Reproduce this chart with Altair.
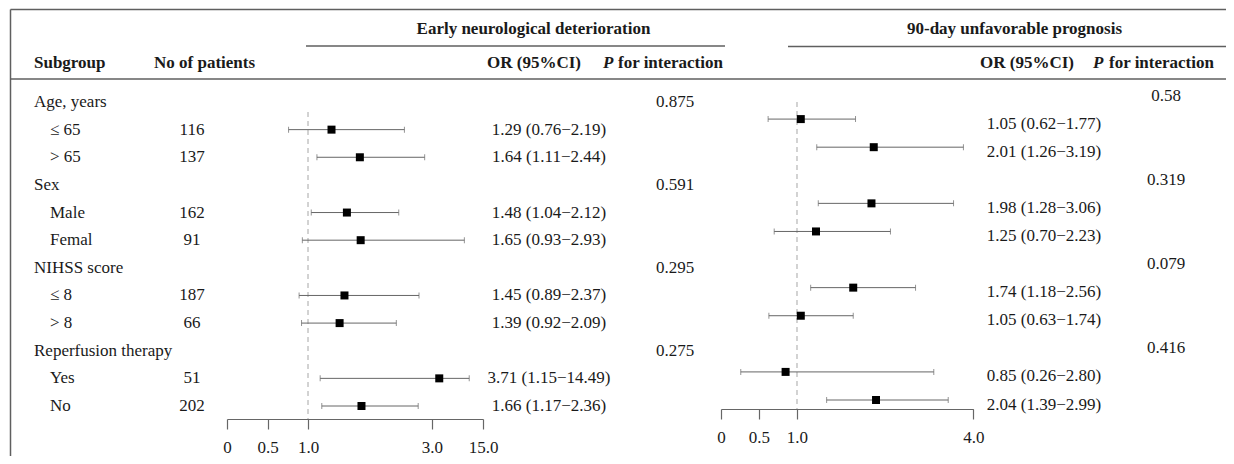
import altair as alt
import pandas as pd

# ---------------- data ----------------
groups = ["Age, years", "Sex", "NIHSS score", "Reperfusion therapy"]
subgroups = ["≤ 65", "> 65", "Male", "Femal", "≤ 8", "> 8", "Yes", "No"]
n_patients = ["116", "137", "162", "91", "187", "66", "51", "202"]

# Early neurological deterioration (positions as drawn in the reference)
ed_or = [1.29, 1.64, 1.48, 1.65, 1.45, 1.39, 2.62, 1.66]
ed_lo = [0.76, 1.11, 1.04, 0.93, 0.89, 0.92, 1.15, 1.17]
ed_hi = [2.19, 2.44, 2.12, 2.93, 2.37, 2.09, 2.99, 2.36]
ed_text = ["1.29 (0.76\u22122.19)", "1.64 (1.11\u22122.44)", "1.48 (1.04\u22122.12)",
           "1.65 (0.93\u22122.93)", "1.45 (0.89\u22122.37)", "1.39 (0.92\u22122.09)",
           "3.71 (1.15\u221214.49)", "1.66 (1.17\u22122.36)"]
ed_p = ["0.875", "0.591", "0.295", "0.275"]

# 90-day unfavorable prognosis
up_or = [1.05, 2.01, 1.98, 1.25, 1.74, 1.05, 0.85, 2.04]
up_lo = [0.62, 1.26, 1.28, 0.70, 1.18, 0.63, 0.26, 1.39]
up_hi = [1.77, 3.19, 3.06, 2.23, 2.56, 1.74, 2.80, 2.99]
up_text = ["1.05 (0.62\u22121.77)", "2.01 (1.26\u22123.19)", "1.98 (1.28\u22123.06)",
           "1.25 (0.70\u22122.23)", "1.74 (1.18\u22122.56)", "1.05 (0.63\u22121.74)",
           "0.85 (0.26\u22122.80)", "2.04 (1.39\u22122.99)"]
up_p = ["0.58", "0.319", "0.079", "0.416"]

# axis ticks (positions where the labels sit on the drawn scale) and labels
ed_ticks = [0, 0.5, 1.0, 2.53, 3.16]
ed_tick_labels = ["0", "0.5", "1.0", "3.0", "15.0"]
up_ticks = [0, 0.5, 1.0, 3.32]
up_tick_labels = ["0", "0.5", "1.0", "4.0"]

# ---------------- tables ----------------
group_rows = [0, 3, 6, 9]
item_rows = [1, 2, 4, 5, 7, 8, 10, 11]

grp_df = pd.DataFrame({"row": group_rows, "label": groups, "ed_p": ed_p, "up_p": up_p})
item_df = pd.DataFrame({"row": item_rows, "label": subgroups, "n": n_patients,
                        "ed_or": ed_or, "ed_lo": ed_lo, "ed_hi": ed_hi, "ed_text": ed_text,
                        "up_or": up_or, "up_lo": up_lo, "up_hi": up_hi, "up_text": up_text})

FONT = "Liberation Serif"
TXT = "#1a1a1a"
LINE = "#5f5f5f"
W, H = 1218, 411

LEFT_Y = alt.Scale(domain=[0, 11], range=[94, 398], nice=False, zero=False)
RIGHT_MARK_Y = alt.Scale(domain=[0, 11], range=[83, 392], nice=False, zero=False)
RIGHT_TEXT_Y = alt.Scale(domain=[0, 11], range=[87.5, 396.5], nice=False, zero=False)
ED_X = alt.Scale(domain=[0, 3.16], range=[219, 475], nice=False, zero=False)
UP_X = alt.Scale(domain=[0, 3.32], range=[713, 965.3], nice=False, zero=False)


def label_expr(vals, labels):
    expr = "''"
    for v, l in reversed(list(zip(vals, labels))):
        expr = f"(abs(datum.value - {v}) < 0.001 ? '{l}' : {expr})"
    return expr


def col_text(df, field, x, yscale, align="left", bold=False):
    return alt.Chart(df).mark_text(
        align=align, baseline="middle", font=FONT, fontSize=17, color=TXT,
        fontWeight="bold" if bold else "normal"
    ).encode(x=alt.value(x), y=alt.Y("row:Q", scale=yscale, axis=None), text=f"{field}:N")


one = pd.DataFrame({"k": [0]})


def header(text, x, y, align="left", italic=False):
    return alt.Chart(one).mark_text(
        align=align, baseline="middle", font=FONT, fontSize=17, color=TXT,
        fontWeight="bold", fontStyle="italic" if italic else "normal"
    ).encode(x=alt.value(x), y=alt.value(y), text=alt.value(text))


def hline(x1, x2, y):
    return alt.Chart(one).mark_rule(color=LINE, strokeWidth=1.5).encode(
        x=alt.value(x1), x2=alt.value(x2), y=alt.value(y))


def forest(pre, xscale, yscale, ticks, tick_labels, axis_offset, dash_top, dash_bottom):
    ref = alt.Chart(pd.DataFrame({"ref": [1.0]})).mark_rule(
        color="#c4c4c4", strokeWidth=1.5, strokeDash=[5, 4]
    ).encode(x=alt.X("ref:Q", scale=xscale, axis=None),
             y=alt.value(dash_top), y2=alt.value(dash_bottom))
    whisk = alt.Chart(item_df).mark_rule(color="#666666", strokeWidth=1).encode(
        x=alt.X(f"{pre}_lo:Q", scale=xscale, axis=None), x2=f"{pre}_hi:Q",
        y=alt.Y("row:Q", scale=yscale, axis=None))
    cap_lo = alt.Chart(item_df).mark_tick(orient="vertical", size=6, thickness=1, color="#666666").encode(
        x=alt.X(f"{pre}_lo:Q", scale=xscale, axis=None), y=alt.Y("row:Q", scale=yscale, axis=None))
    cap_hi = alt.Chart(item_df).mark_tick(orient="vertical", size=6, thickness=1, color="#666666").encode(
        x=alt.X(f"{pre}_hi:Q", scale=xscale, axis=None), y=alt.Y("row:Q", scale=yscale, axis=None))
    pts = alt.Chart(item_df).mark_square(size=64, color="black", opacity=1).encode(
        x=alt.X(f"{pre}_or:Q", scale=xscale,
                axis=alt.Axis(orient="bottom", values=ticks, labelExpr=label_expr(ticks, tick_labels),
                              title=None, grid=False, domainColor="#666666", tickColor="#666666",
                              domainWidth=1.2, tickWidth=1.2, tickSize=10, labelPadding=10,
                              labelFont=FONT, labelFontSize=17, labelColor=TXT,
                              labelFlush=False, labelOverlap=False, offset=axis_offset)),
        y=alt.Y("row:Q", scale=yscale, axis=None))
    return [ref, whisk, cap_lo, cap_hi, pts]


layers = [
    # frame and header rules
    hline(2.5, W, 1.5),
    alt.Chart(one).mark_rule(color=LINE, strokeWidth=1.5).encode(
        x=alt.value(2.5), y=alt.value(1.5), y2=alt.value(448)),
    hline(298, 717, 38),
    hline(780, W, 38.5),
    hline(2.5, W, 71),
    # headers
    header("Early neurological deterioration", 525.5, 21, align="center"),
    header("90-day unfavorable prognosis", 1006.5, 21, align="center"),
    header("Subgroup", 26, 55),
    header("No of patients", 146, 55),
    header("OR (95%CI)", 479, 55),
    header("P", 595, 55, italic=True),
    header("for interaction", 610, 55),
    header("OR (95%CI)", 972, 55),
    header("P", 1085, 55, italic=True),
    header("for interaction", 1101, 55),
    # table columns
    col_text(grp_df, "label", 26, LEFT_Y),
    col_text(item_df, "label", 42, LEFT_Y),
    col_text(item_df, "n", 184, LEFT_Y, align="center"),
    col_text(item_df, "ed_text", 541, LEFT_Y, align="center"),
    col_text(grp_df, "ed_p", 667, LEFT_Y, align="center"),
    col_text(item_df, "up_text", 1036, RIGHT_TEXT_Y, align="center"),
    col_text(grp_df, "up_p", 1158, RIGHT_TEXT_Y, align="center"),
]
layers += forest("ed", ED_X, LEFT_Y, ed_ticks, ed_tick_labels, 0, 104, 411)
layers += forest("up", UP_X, RIGHT_MARK_Y, up_ticks, up_tick_labels, -10, 94, 401)

chart = alt.layer(*layers).resolve_scale(x="independent", y="independent").properties(
    width=W, height=H,
    autosize=alt.AutoSizeParams(type="none"),
    padding={"left": 0, "top": 0, "right": 0, "bottom": 37},
    background="white",
).configure_view(stroke=None)

chart.save("out.html", embed_options={"renderer": "svg", "actions": False})
